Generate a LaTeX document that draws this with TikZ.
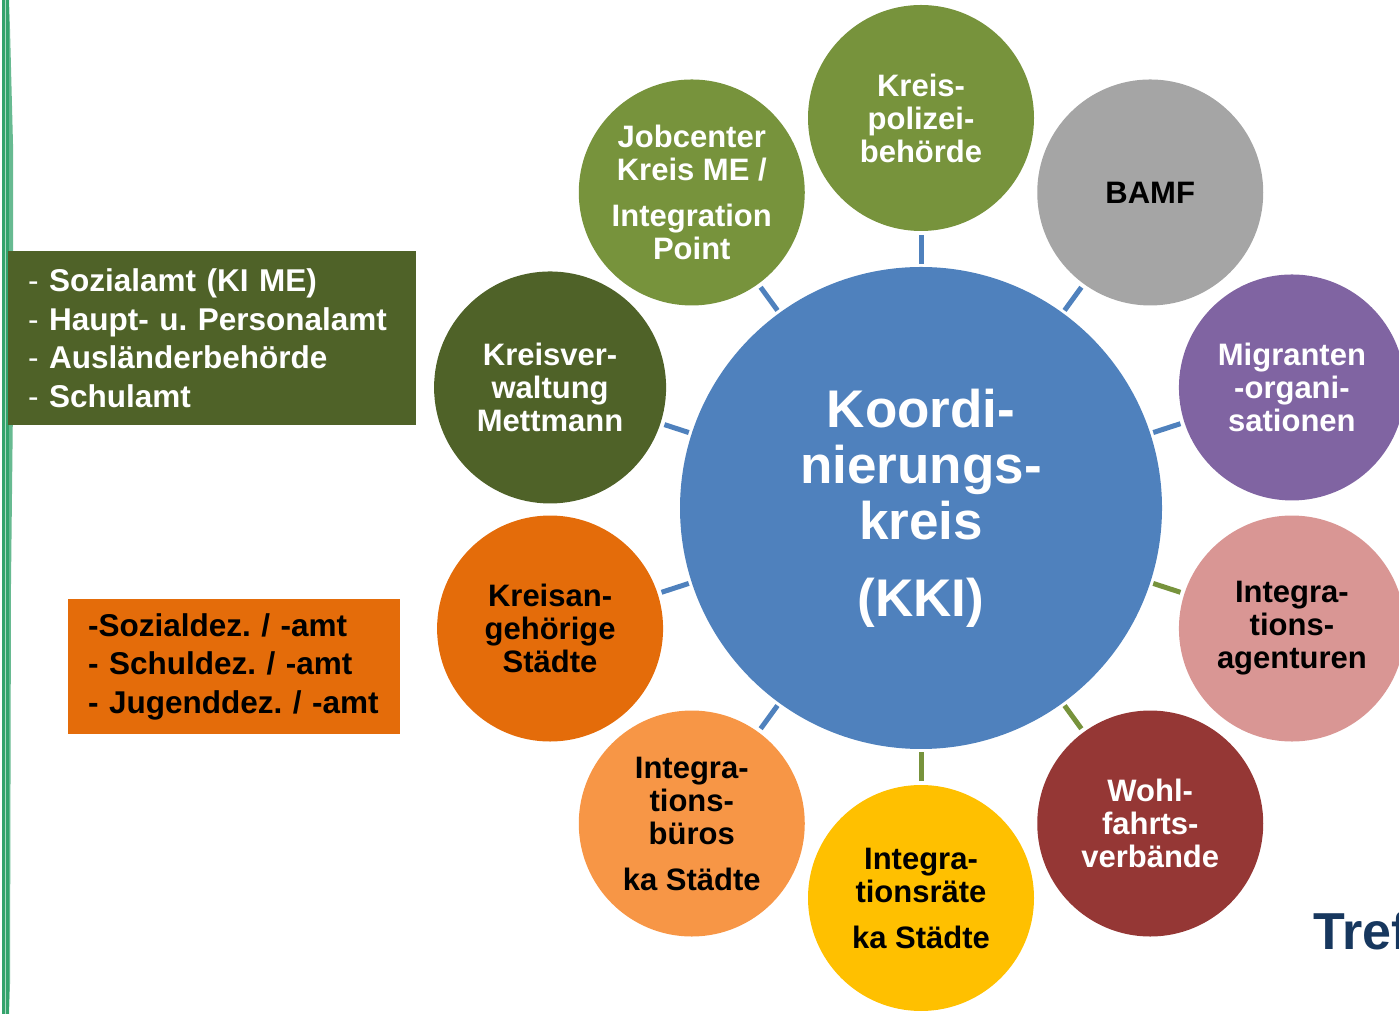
\documentclass[tikz,border=0pt]{standalone}
\usepackage{fontspec}
\setmainfont{Liberation Sans}
\definecolor{kkiblue}{HTML}{4F81BD}
\definecolor{kkiolive}{HTML}{77933C}
\definecolor{kkidark}{HTML}{4F6228}
\definecolor{kkigray}{HTML}{A5A5A5}
\definecolor{kkipurple}{HTML}{8064A2}
\definecolor{kkipink}{HTML}{D99694}
\definecolor{kkired}{HTML}{953735}
\definecolor{kkigold}{HTML}{FFC000}
\definecolor{kkilight}{HTML}{F79646}
\definecolor{kkiorange}{HTML}{E46C0A}
\definecolor{kkistripe}{HTML}{34A36C}
\definecolor{kkinavy}{HTML}{17375E}
\tikzset{
  hub/.style={circle, fill=kkiblue, minimum size=482pt, inner sep=0pt, text=white,
    align=center, font=\fontsize{53}{56}\selectfont\bfseries},
  member/.style={circle, minimum size=226pt, inner sep=0pt, align=center,
    font=\fontsize{31}{33}\selectfont\bfseries},
  link/.style={line width=5pt, shorten <=3pt, shorten >=4pt},
  listbox/.style={inner xsep=20pt, inner ysep=0pt, align=left, anchor=north west,
    font=\fontsize{31.5}{38.5}\selectfont\bfseries\frenchspacing}
}
\begin{document}
\begin{tikzpicture}[x=1pt,y=1pt]
      \useasboundingbox (0,0) rectangle (1399,1014);
      \clip (0,0) rectangle (1399,1014);
      % green strokes at the left edge
      \fill[kkistripe] (2,0) rectangle (9,1014);
      \fill[kkistripe!75] (9,1014) -- (10,985) -- (13,870) -- (13,610) -- (11,430) -- (10,30) -- (9,0) -- cycle;
      \draw[white!60!kkistripe, line width=0.8pt] (5,1014) -- (5,0);
      % the two boxes on the left
      \node[listbox, fill=kkidark, text=white, text width=368pt, minimum height=174pt]
        (kreislist) at (8,763) {\textmd{- }Sozialamt (KI ME)\\\textmd{- }Haupt- u. Personalamt\\\textmd{- }Ausländerbehörde\\\textmd{- }Schulamt};
      \node[listbox, fill=kkiorange, text=black, text width=292pt, minimum height=135pt]
        (staedtelist) at (68,415) {-Sozialdez. / -amt\\- Schuldez. / -amt\\- Jugenddez. /\nobreak\ -amt};
      \begin{scope}[shift={(921,506)}]
      \draw
        (0,0) node[hub] (kki) {Koordi-\\nierungs-\\kreis\\[21pt](KKI)}
        (90:390) node[member, fill=kkiolive, text=white] (polizei) {Kreis-\\polizei-\\behörde}
        (54:390) node[member, fill=kkigray, text=black] (bamf) {BAMF}
        (18:390) node[member, fill=kkipurple, text=white] (migranten) {Migranten\\-organi-\\sationen}
        (-18:390) node[member, fill=kkipink, text=black] (agenturen) {Integra-\\tions-\\agenturen}
        (-54:390) node[member, fill=kkired, text=white] (wohlfahrt) {Wohl-\\fahrts-\\verbände}
        (-90:390) node[member, fill=kkigold, text=black] (raete) {Integra-\\tionsräte\\[13pt]ka Städte}
        (-126:390) node[member, fill=kkilight, text=black] (bueros) {Integra-\\tions-\\büros\\[13pt]ka Städte}
        (-162:390) node[member, fill=kkiorange, text=black] (staedte) {Kreisan-\\gehörige\\Städte}
        (162:390) node[member, fill=kkidark, text=white, minimum size=232pt] (verwaltung) {Kreisver-\\waltung\\Mettmann}
        (126:390) node[member, fill=kkiolive, text=white] (jobcenter) {Jobcenter\\Kreis ME /\\[13pt]Integration\\Point};
      \begin{scope}[link, kkiblue]
        \draw (kki) to (polizei);
        \draw (kki) to (bamf);
        \draw (kki) to (migranten);
        \draw (kki) to (jobcenter);
        \draw (kki) to (verwaltung);
        \draw (kki) to (staedte);
        \draw (kki) to (bueros);
      \end{scope}
      \begin{scope}[link, kkiolive]
        \draw (kki) to (agenturen);
        \draw (kki) to (wohlfahrt);
        \draw (kki) to (raete);
      \end{scope}
      \end{scope}
      \node[anchor=base west, inner sep=0pt, text=kkinavy, font=\fontsize{52}{56}\selectfont\bfseries]
        (tref) at (1313,64) {Tref};
    \end{tikzpicture}
\end{document}
